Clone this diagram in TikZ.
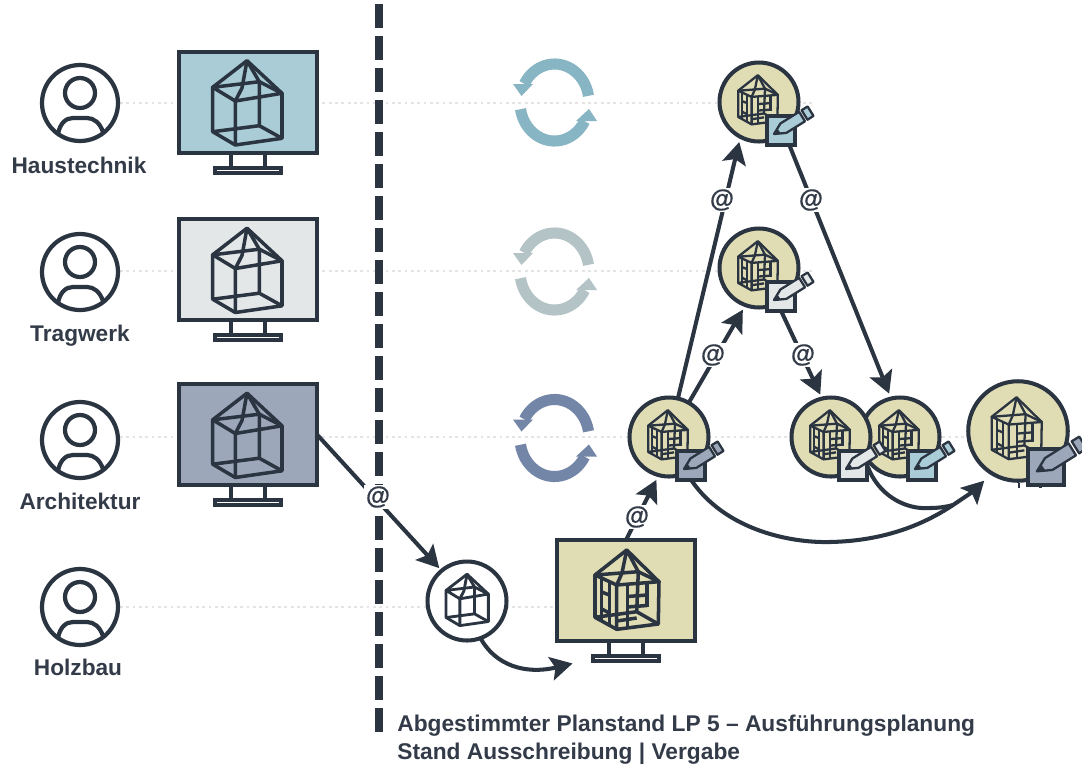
\documentclass[tikz,border=0pt]{standalone}
\usepackage{fontspec}
\setmainfont{Liberation Sans}
\newfontface\atfont{Liberation Sans Bold}[FakeBold=0.5]
\usetikzlibrary{arrows.meta}

\definecolor{ink}{HTML}{2B3441}
\definecolor{textink}{HTML}{333B49}
\definecolor{rowline}{HTML}{E4E4E4}
\definecolor{hausfill}{HTML}{A9CCD6}
\definecolor{hausring}{HTML}{87B5C4}
\definecolor{tragfill}{HTML}{E3E7E8}
\definecolor{tragring}{HTML}{B3C3C6}
\definecolor{archfill}{HTML}{9CA8BA}
\definecolor{archring}{HTML}{7486A8}
\definecolor{holzfill}{HTML}{E0DCB4}

\tikzset{
  rolelabel/.style={font=\bfseries\fontsize{12.9}{15}\selectfont, text=textink, inner sep=0pt, anchor=base},
  atlabel/.style={font=\atfont\fontsize{14}{16}\selectfont, text=textink, fill=white, inner sep=1pt},
  rowdots/.style={rowline, line width=1.4pt, dash pattern=on 1.6pt off 2pt},
  flowline/.style={ink, line width=2.3pt},
  flow/.style={flowline, -{Stealth[length=12.5pt, width=13.5pt, inset=2.5pt]}},
  pics/person/.style={code={
    \draw[ink, line width=2.4pt] (0,0) circle (38);
    \draw[ink, line width=2.4pt] (0,-10) circle (15);
    \draw[ink, line width=2.4pt] (-22,31) .. controls (-20,20) and (-14,15) .. (-7,15) -- (7,15) .. controls (14,15) and (20,20) .. (23,29);
  }},
  pics/monitor/.style={code={
    \draw[ink, line width=2.2pt] (-17,52) -- (-17,64) (17,52) -- (17,64);
    \node[draw=ink, fill=white, line width=2.2pt, minimum width=1.32cm, minimum height=.11cm, inner sep=0pt, outer sep=0pt] (-base) at (0,68) {};
    \node[draw=ink, fill=#1, line width=2.3pt, minimum width=2.76cm, minimum height=2.02cm, inner sep=0pt, outer sep=0pt] (-screen) at (0,0) {};
  }},
  pics/plainhouse/.style={code={
    \draw[ink, line join=round] (-34.3,-15.7) -- (0,-42.3) -- (35,-9.7) -- (35,35.3) -- (-11.7,42) -- (-34.3,28.7) -- cycle;
    \draw[ink, line join=round] (-34.3,-15.7) -- (-11.7,-2) -- (35,-9.7) -- (12.3,-21.3) -- cycle;
    \draw[ink] (-11.7,-2) -- (-11.7,42) (12.3,-21.3) -- (12.3,22.7) (-34.3,28.7) -- (12.3,22.7) -- (35,35.3);
    \draw[ink] (0,-42.3) -- (12.3,-21.3) (0,-42.3) -- (-5,-15) -- (-11.7,-2);
  }},
  pics/gridhouse/.style={code={
    \draw[ink, line join=round] (-32,-15) -- (-.3,-40) -- (32,-8.3) -- (31.3,34) -- (-10.3,39.3) -- (-32,27.3) -- cycle;
    \draw[ink, line join=round] (-32,-15) -- (-10.3,-5) -- (32,-8.3) -- (11.3,-18.3) -- cycle;
    \draw[ink] (-10.3,-5) -- (-10.3,39.3) (11.3,-18.3) -- (9.7,21.7) (-32,27.3) -- (9.7,21.7) -- (31.3,34);
    \draw[ink] (-.3,-40) -- (11.3,-18.3) (-.3,-40) -- (-5,-17) -- (-10.3,-5);
    % window bars
    \draw[ink] (-25.3,-12) -- (-25.3,31) (-17.7,-8.7) -- (-17.7,35) (.3,-6) -- (.3,37.5) (20,-7) -- (20,17);
    \draw[ink] (-25.3,2) -- (-17.7,5) (-25.3,19) -- (-17.7,23) (.3,6.5) -- (20,5) (.3,17) -- (20,15.5);
    \draw[ink] (-10.3,31) -- (9.7,28);
  }},
  pics/pencil/.style={code={
    \draw[ink, line width=1.3pt, fill=#1, line join=round] (15,32) -- (21.4,21.5) -- (40.1,9.8) -- (46,19.3) -- (27.3,30.9) -- cycle;
    \draw[ink, line width=1.3pt, fill=#1, line join=round] (42.6,8.2) -- (48.6,4.5) -- (54.5,13.9) -- (48.5,17.7) -- cycle;
    \fill[ink] (15,32) -- (18.4,26.5) -- (21.5,31) -- cycle;
  }},
  pics/plannote/.style={code={
    \node[draw=ink, fill=holzfill, circle, line width=2.3pt, minimum size=1.58cm, inner sep=0pt, outer sep=0pt, transform shape] (-ring) at (0,0) {};
    \pic[transform shape, line width=1.3pt, scale=.62] at (-1,-2) {gridhouse};
    \node[draw=ink, fill=#1, line width=2.3pt, minimum size=.57cm, inner sep=0pt, outer sep=0pt, transform shape] (-sheet) at (22,28.5) {};
    \pic[transform shape] {pencil=#1};
  }},
  pics/cycle/.style={code={
    \draw[#1, line width=6.3pt] (34,-6.7) arc[start angle=-10, end angle=-151, x radius=34.5, y radius=38.5];
    \fill[#1] (-33,-6.5) -- (-41.5,-18.5) -- (-21.5,-18.5) -- cycle;
    \draw[#1, line width=6.3pt] (-34,6.7) arc[start angle=170, end angle=29, x radius=34.5, y radius=38.5];
    \fill[#1] (34.5,6.5) -- (21.5,18.5) -- (42.5,18.5) -- cycle;
  }}
}

\begin{document}
\begin{tikzpicture}[x=0.02cm, y=-0.02cm]
\clip (0,0) rectangle (1082,765);
\fill[white] (0,0) rectangle (1082,765);

% rows
\draw[rowdots] (120,103) -- (815,103);
\draw[rowdots] (120,271) -- (815,271);
\draw[rowdots] (120,437) -- (970,437);
\draw[rowdots] (120,607) -- (555,607);

% divider
\draw[ink, line width=4.5pt, dash pattern=on 13.66pt off 4.55pt] (379,4.3) -- (379,732.4);

% roles
\pic at (80,103) {person};
\pic at (80,272) {person};
\pic at (80,440) {person};
\pic at (80,607) {person};
\node[rolelabel] (labelHaus) at (79,173) {Haustechnik};
\node[rolelabel] (labelTrag) at (80,341) {Tragwerk};
\node[rolelabel] (labelArch) at (80,509) {Architektur};
\node[rolelabel] (labelHolz) at (78,675) {Holzbau};

% monitors
\pic (monHaus) at (248,102.5) {monitor=hausfill};
\pic (monTrag) at (248,269.5) {monitor=tragfill};
\pic (monArch) at (248,434.5) {monitor=archfill};
\pic (monHolz) at (626,590.5) {monitor=holzfill};
\pic[line width=2pt] at (247,103) {plainhouse};
\pic[line width=2pt] at (247,270.5) {plainhouse};
\pic[line width=2pt] at (247,435.5) {plainhouse};
\pic[line width=2pt] at (627,590) {gridhouse};

% coordination cycles
\pic at (554.5,102.5) {cycle=hausring};
\pic at (554.5,271.5) {cycle=tragring};
\pic at (554.5,438) {cycle=archring};

% model in the middle
\node[draw=ink, fill=white, circle, line width=2.3pt, minimum size=1.58cm, inner sep=0pt, outer sep=0pt] (modelRing) at (467,601) {};
\pic[line width=1.6pt, scale=.61] at (467,600) {plainhouse};

% plan versions
\pic (noteHaus) at (759,102) {plannote=hausfill};
\pic (noteTrag) at (759,268) {plannote=tragfill};
\pic (noteArch) at (669,437) {plannote=archfill};
\pic (noteRight) at (900,437) {plannote=hausfill};
\pic (noteLeft) at (831,437) {plannote=tragfill};
\draw[ink, line width=1.2pt] (1019,483) -- (1019,488) (1040.5,483) -- (1040.5,488);
\pic[scale=1.26] (noteEnd) at (1018,431) {plannote=archfill};

% connectors
\coordinate (mergeEnd) at (953,505);
\draw[flow, shorten >=2pt] (monArch-screen.east) -- (modelRing.130);
\draw[flow] (modelRing.290) .. controls (495,665) and (525,675) .. (monHolz-base.west) [shorten >=12pt];
\draw[flow, shorten >=3pt] (monHolz-screen.north) -- (noteArch-ring.255);
\draw[flow, shorten >=3pt] (noteArch-ring.77) -- (noteHaus-ring.242);
\draw[flow, shorten >=3pt] (noteArch-ring.60) -- (noteTrag-ring.250);
\draw[flow, shorten >=3pt] (noteHaus-sheet.300) -- (noteRight-ring.103);
\draw[flow, shorten >=2.5pt] (noteTrag-sheet.south) -- (noteLeft-ring.103);
\draw[flow, shorten >=6pt] (noteArch-sheet.south) .. controls (725,530) and (790,543) .. (830,542) .. controls (880,541) and (920,527) .. (mergeEnd) .. controls (965,497) and (975,490) .. (noteEnd-ring.238);
\draw[flowline] (noteLeft-sheet.east) .. controls (878,495) and (905,510) .. (930,508) .. controls (938,508) and (946,507) .. (mergeEnd);

% mail labels
\node[atlabel] (mailModel) at (378,497) {@};
\node[atlabel] (mailStart) at (637,517) {@};
\node[atlabel] (mailHaus) at (722,200) {@};
\node[atlabel] (mailBack) at (811,200) {@};
\node[atlabel] (mailTrag) at (713,355) {@};
\node[atlabel] (mailLeft) at (803,355) {@};

\node[rolelabel, anchor=north west, align=left, font=\bfseries\fontsize{12.95}{16}\selectfont] (caption) at (397,715) {Abgestimmter Planstand LP 5 – Ausführungsplanung\\Stand Ausschreibung | Vergabe};
\end{tikzpicture}
\end{document}
